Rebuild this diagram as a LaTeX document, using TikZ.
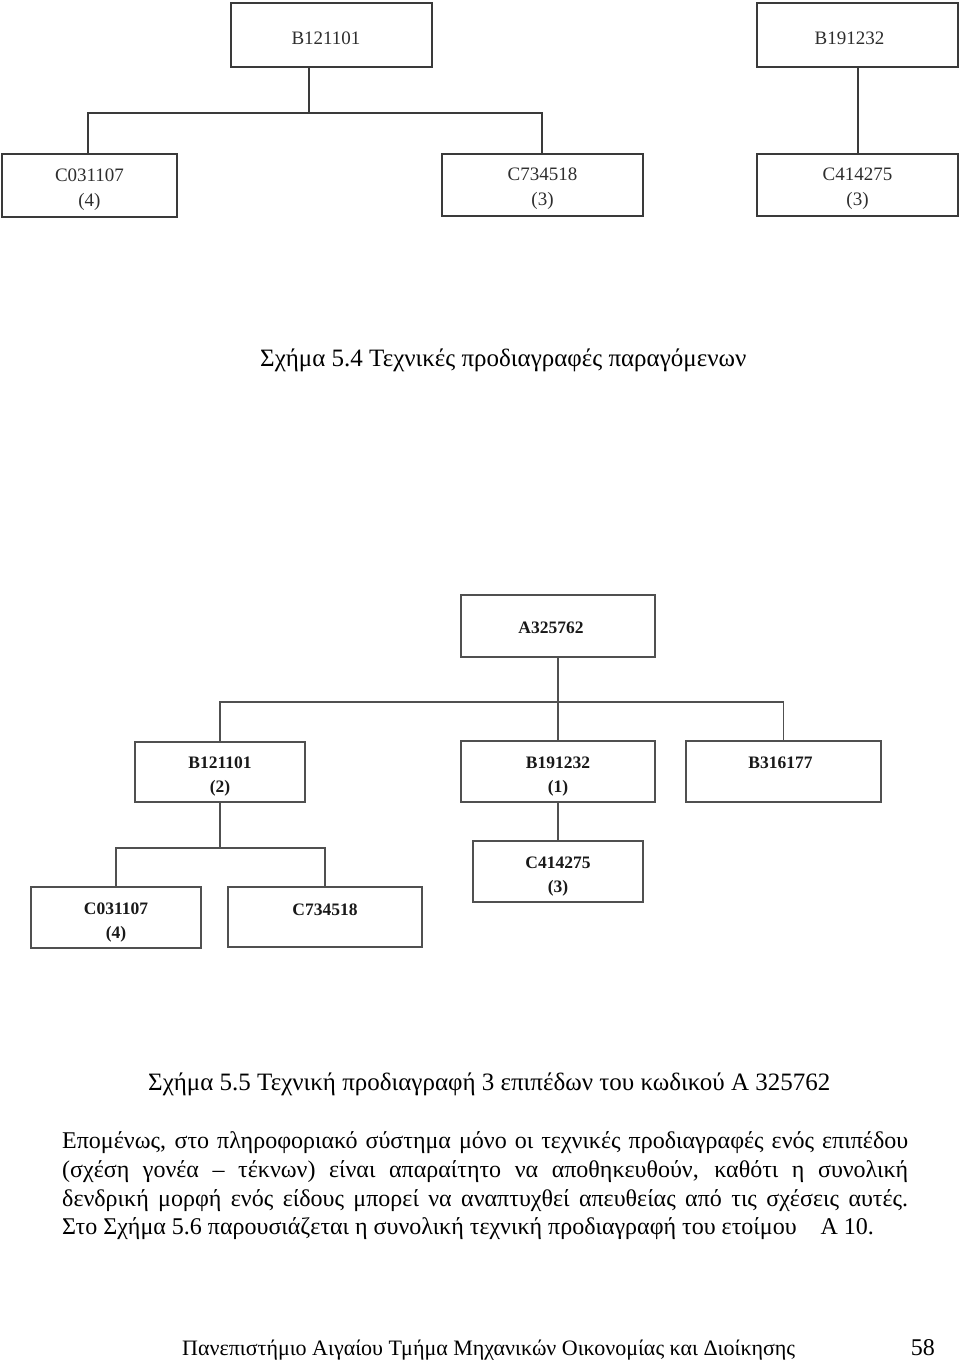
\documentclass[tikz,border=0pt]{standalone}
\usepackage{fontspec}
\setmainfont{Liberation Serif}
\usetikzlibrary{calc}
\definecolor{tline}{HTML}{3A3A3A}
\definecolor{mline}{HTML}{505050}
\definecolor{ttext}{HTML}{2E2E2E}
\newcommand{\upstrut}[1]{\rule{0pt}{#1}}
\newcommand{\downstrut}[1]{\rule[-#1]{0pt}{#1}}
\begin{document}
\begin{tikzpicture}[x=1pt,y=-1pt,
  topbox/.style={draw=tline,line width=1.4pt,inner sep=0pt,text=ttext,
    font=\fontsize{19}{25}\selectfont,align=center},
  midbox/.style={draw=mline,line width=1.2pt,inner sep=0pt,text=black!90,
    font=\fontsize{17.5}{24}\selectfont\bfseries,align=center},
  tconn/.style={draw=tline,line width=1.4pt},
  mconn/.style={draw=mline,line width=1.2pt},
  bodytext/.style={anchor=base west,inner sep=0pt,font=\fontsize{24}{29}\selectfont}]
\useasboundingbox (0,0) rectangle (960,1360);
\fill[white] (0,0) rectangle (960,1360);

% ---------- top diagram ----------
\node[topbox,minimum width=201pt,minimum height=64pt] (tB1) at (331.5,35) {\upstrut{20pt}B121101\hspace{11pt}};
\node[topbox,minimum width=201pt,minimum height=64pt] (tB2) at (857.5,35) {\upstrut{20pt}B191232\hspace{16pt}};
\node[topbox,minimum width=175pt,minimum height=63pt] (tC1) at (89.5,185.5) {\upstrut{21pt}C031107\\(4)\hspace{10pt}};
\node[topbox,minimum width=201pt,minimum height=62pt] (tC2) at (542.5,185) {\upstrut{21pt}C734518\\(3)\hspace{10pt}};
\node[topbox,minimum width=201pt,minimum height=62pt] (tC3) at (857.5,185) {\upstrut{21pt}C414275\\(3)\hspace{4pt}};
\coordinate (tbar) at (0,113);
\coordinate (tB1d) at ([xshift=-22.5pt]tB1.south);
\draw[tconn] (tB1d) -- (tB1d |- tbar);
\draw[tconn] ([xshift=-1.5pt]tC1.north) -- ([xshift=-1.5pt]tC1.north |- tbar) -- ([xshift=-0.5pt]tC2.north |- tbar) -- ([xshift=-0.5pt]tC2.north);
\draw[tconn] ([xshift=0.5pt]tB2.south) -- ([xshift=0.5pt]tC3.north);

\node[bodytext,font=\fontsize{25}{30}\selectfont] (cap1) at (260,366) {Σχήμα 5.4 Τεχνικές προδιαγραφές παραγόμενων};

% ---------- middle diagram ----------
\node[midbox,minimum width=194pt,minimum height=62pt] (A) at (558,626) {\upstrut{16pt}A325762\hspace{14pt}};
\node[midbox,minimum width=170pt,minimum height=60pt] (B1) at (220,772) {\upstrut{21pt}B121101\\(2)};
\node[midbox,minimum width=194pt,minimum height=61pt] (B2) at (558,771.5) {\upstrut{21pt}B191232\\(1)};
\node[midbox,minimum width=195pt,minimum height=61pt] (B3) at (783.5,771.5) {\downstrut{17pt}B316177\hspace{6pt}};
\node[midbox,minimum width=170pt,minimum height=61pt] (C3) at (558,871.5) {\upstrut{21pt}C414275\\(3)};
\node[midbox,minimum width=170pt,minimum height=61pt] (C1) at (116,917.5) {\upstrut{21pt}C031107\\(4)};
\node[midbox,minimum width=194pt,minimum height=60pt] (C2) at (325,917) {\downstrut{14pt}C734518};
\coordinate (mbar) at (0,702);
\coordinate (lbar) at (0,848);
\draw[mconn] (A.south) -- (B2.north);
\draw[mconn] (B1.north) -- (B1.north |- mbar) -- (B3.north |- mbar) -- (B3.north);
\draw[mconn] (B2.south) -- (C3.north);
\draw[mconn] (B1.south) -- (B1.south |- lbar);
\draw[mconn] (C1.north) -- (C1.north |- lbar) -- (C2.north |- lbar) -- (C2.north);

% ---------- text ----------
\node[bodytext,font=\fontsize{25}{30}\selectfont] (cap2) at (148,1090) {Σχήμα 5.5 Τεχνική προδιαγραφή 3 επιπέδων του κωδικού Α 325762};
\node[bodytext] (l1) at (62,1148) {\makebox[846pt][s]{Επομένως, στο πληροφοριακό σύστημα μόνο οι τεχνικές προδιαγραφές ενός επιπέδου}};
\node[bodytext] (l2) at (62,1177) {\makebox[846pt][s]{(σχέση γονέα – τέκνων) είναι απαραίτητο να αποθηκευθούν, καθότι η συνολική}};
\node[bodytext] (l3) at (62,1206) {\makebox[846pt][s]{δενδρική μορφή ενός είδους μπορεί να αναπτυχθεί απευθείας από τις σχέσεις αυτές.}};
\node[bodytext] (l4) at (62,1234) {Στο Σχήμα 5.6 παρουσιάζεται η συνολική τεχνική προδιαγραφή του ετοίμου\hspace{1em}Α 10.};
\node[bodytext,font=\fontsize{22}{26}\selectfont] (foot) at (182,1355) {Πανεπιστήμιο Αιγαίου Τμήμα Μηχανικών Οικονομίας και Διοίκησης};
\node[bodytext,anchor=base east] (page) at (935,1355) {58};
\end{tikzpicture}
\end{document}
